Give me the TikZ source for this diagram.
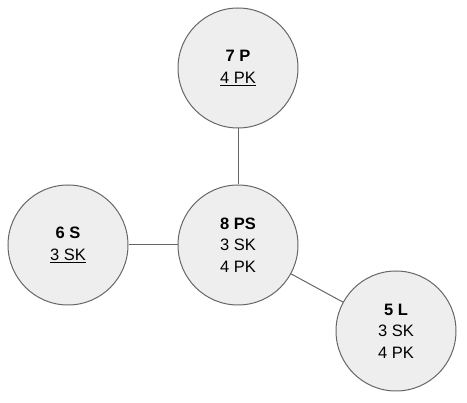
\documentclass[tikz,border=0pt]{standalone}
\usepackage{fontspec}
\setmainfont{Liberation Sans}
\definecolor{circfill}{HTML}{EEEEEE}
\definecolor{circline}{HTML}{666666}
\begin{document}
\begin{tikzpicture}[x=1pt,y=-1pt,
  bubble/.style={circle,draw=circline,fill=circfill,line width=1pt,minimum size=120pt,inner sep=0pt,
    align=center,font=\fontsize{16.5}{21.5}\selectfont,text=black},
  link/.style={draw=circline,line width=1pt}]
\useasboundingbox (0,0) rectangle (467,403);
\node[bubble] (p) at (238,68) {\textbf{7 P}\\\underline{4 PK}};
\node[bubble] (s) at (68,245) {\textbf{6 S}\\\underline{3 SK}};
\node[bubble] (ps) at (238,245) {\textbf{8 PS}\\3 SK\\4 PK};
\node[bubble] (l) at (396,331) {\textbf{5 L}\\3 SK\\4 PK};
\draw[link] (p) -- (ps);
\draw[link] (s) -- (ps);
\draw[link] (ps) -- (l);
\end{tikzpicture}
\end{document}
